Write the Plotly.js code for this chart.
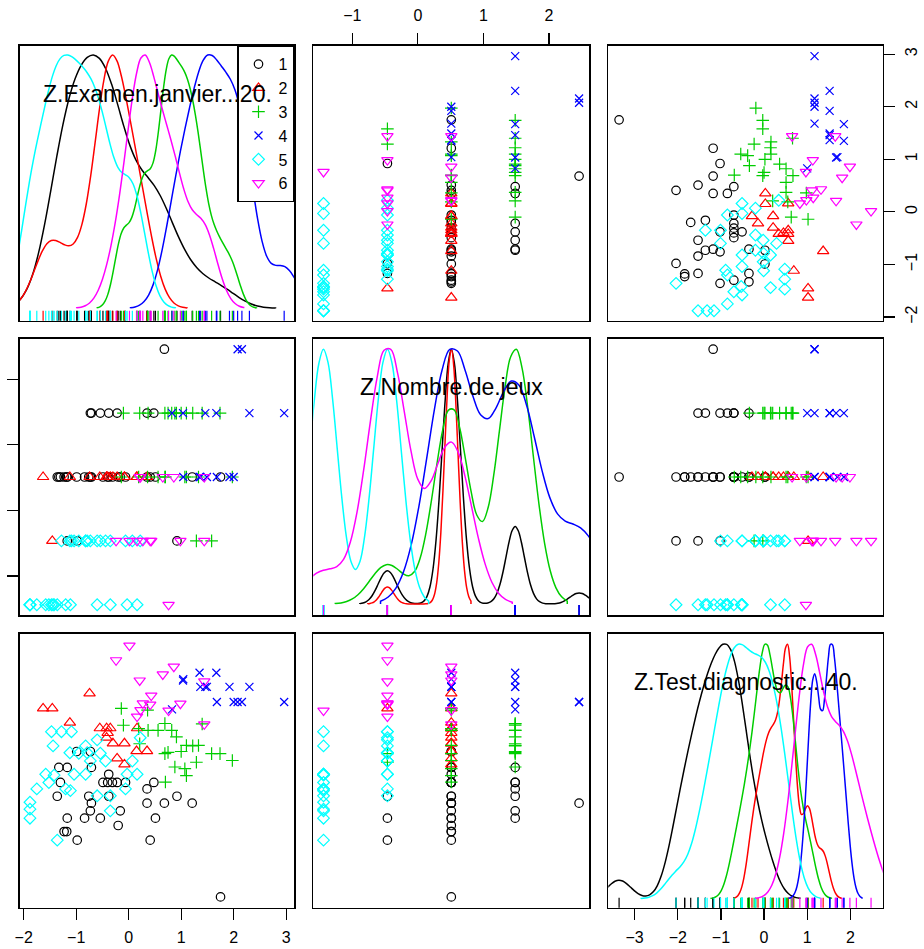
<!DOCTYPE html>
<html>
<head>
<meta charset="utf-8">
<script src="https://cdn.plot.ly/plotly-3.0.1.min.js"></script>
<style>html,body{margin:0;padding:0;background:#fff}</style>
</head>
<body>
<div id="chart" style="width:924px;height:949px"></div>
<script>
// ---------------- DATA ----------------
const clusterNames = ['1', '2', '3', '4', '5', '6'];
const varLabels = ['Z.Examen.janvier...20.', 'Z.Nombre.de.jeux', 'Z.Test.diagnostic...40.'];

// cluster 1
const examen1 = [-1.33,-1.17,-0.71,-0.38,-0.49,-0.40,-0.31,-0.22,-0.06,-1.30,0.48,0.35,-1.36,-0.76,-0.38,-0.71,-0.73,-0.16,0.35,0.68,0.92,1.21,-1.17,-0.84,-0.54,0.51,-0.20,-1.23,-1.18,-0.98,0.41,1.75,-0.99,-0.73];
const jeux1   = [0.51,0.51,1.485,0.51,0.51,0.51,0.51,1.485,0.51,0.51,1.485,1.485,0.51,0.51,1.485,0.51,1.485,0.51,0.51,2.46,-0.465,0.51,-0.465,0.51,1.485,0.51,0.51,0.51,0.51,-0.465,0.51,0.51,0.51,0.51];
const diag1   = [-0.35,-0.35,-0.35,-0.51,-0.70,-0.70,-0.70,-0.70,-0.70,-0.70,-0.70,-0.85,-1.02,-1.02,-1.02,-1.18,-1.36,-1.36,-1.18,-1.18,-1.02,-1.18,-1.53,-1.53,-1.53,-1.53,-1.70,-1.84,-1.84,-2.04,-2.04,-3.36,0.02,0.02];
// cluster 2
const examen2 = [-1.63,-1.455,-1.12,-0.745,-0.55,-0.42,-0.35,0.16,-0.30,-0.08,0.15,0.35,-0.22,-0.08,-0.42,-0.40];
const jeux2   = [0.51,-0.465,0.51,0.51,0.51,0.51,0.51,0.51,0.51,0.51,0.51,0.51,0.51,0.51,0.51,0.51];
const diag2   = [1.02,1.02,0.69,1.37,0.56,0.56,0.56,0.56,0.21,0.21,0.03,0.03,-0.14,-0.28,0.34,0.45];
// cluster 3
const examen3 = [1.975,1.74,1.58,1.29,1.33,1.10,1.07,0.88,1.10,0.91,0.82,0.69,0.75,0.70,0.56,0.69,0.37,0.36,0.21,-0.10,-0.14,0.19,1.40,1.22,1.00];
const jeux3   = [0.51,1.485,-0.465,-0.465,0.51,0.51,0.51,1.485,1.485,1.485,1.485,0.51,1.485,0.51,0.51,1.485,1.485,0.51,1.485,1.485,0.51,0.51,1.485,1.485,1.485];
const diag3   = [-0.19,-0.03,-0.03,-0.23,0.16,-0.54,-0.38,-0.34,0.16,0.36,0.51,-0.03,0.00,-0.69,0.51,0.67,0.51,0.98,0.20,0.63,1.02,0.55,0.66,0.15,0.02];
// cluster 4
const examen4 = [1.035,1.35,1.67,1.365,1.46,1.49,1.92,2.30,1.68,2.00,2.075,2.157,2.962,0.826,1.04];
const jeux4   = [1.485,0.51,1.485,0.51,1.485,0.51,0.51,1.485,0.51,0.51,2.46,2.46,1.485,1.485,0.51];
const diag4   = [1.67,1.85,1.85,1.52,1.52,1.52,1.52,1.52,1.17,1.17,1.17,1.17,1.17,1.00,1.70];
// cluster 5
const examen5 = [-1.47,-1.28,-1.09,-1.44,-1.12,-0.95,-0.79,-0.82,-0.60,-0.54,-0.73,-0.44,0.07,0.22,-1.58,-1.42,-1.52,-1.04,-0.82,-0.03,0.16,-1.75,-1.20,-1.11,-0.60,-0.35,-0.06,-1.88,-1.88,-1.88,-0.35,-1.36];
const jeux5   = [-1.44,-0.465,-0.465,-1.44,-0.465,-0.465,-0.465,-0.465,-0.465,-0.465,-0.465,-0.465,-0.465,-0.465,-1.44,-1.44,-1.44,-0.465,-0.465,-1.44,-1.44,-1.44,-1.44,-1.44,-1.44,-0.465,-0.465,-1.44,-1.44,-1.44,-1.44,-1.44];
const diag5   = [0.48,0.48,0.48,0.15,-0.01,-0.02,-0.01,0.15,0.29,-0.02,-0.20,-0.20,-0.20,0.34,-0.51,-0.53,-0.70,-0.51,-0.51,-0.51,-0.51,-0.85,-0.85,-0.89,-1.01,-1.01,-0.85,-1.16,-1.32,-1.53,-1.36,-2.04];
// cluster 6
const examen6 = [0.015,-0.24,0.86,0.65,0.21,1.44,0.43,0.27,0.41,0.985,0.225,0.76,0.16,1.44];
const jeux6   = [-0.465,-0.465,0.51,0.51,0.51,-0.465,-0.465,-0.465,-0.465,-0.465,0.51,-1.44,-0.465,0.51];
const diag6   = [2.48,2.14,1.99,1.81,1.67,1.65,1.32,1.14,1.11,1.13,0.98,0.97,0.83,0.65];

const tickExamen = [-2, -1, 0, 1, 2, 3];
const tickJeux = [-1, 0, 1, 2];
const tickDiag = [-3, -2, -1, 0, 1, 2];

// ---------------- STYLE ----------------
const colors = ['#000000', '#FF0000', '#00CD00', '#0000FF', '#00FFFF', '#FF00FF'];
const symbols = ['circle-open', 'triangle-up-open', 'cross-thin-open', 'x-thin-open', 'diamond-open', 'triangle-down-open'];
const msizes = [8.5, 10, 9, 8, 9, 10];
const bws = [[0.35, 0.254, 0.153, 0.264, 0.223, 0.25],
             [0.14, 0.10, 0.265, 0.36, 0.21, 0.31],
             [0.27, 0.14, 0.18, 0.14, 0.27, 0.28]];

const W = 924, H = 949;
const colPx = [[20, 294.3], [313.3, 589.3], [608.3, 882.7]];
const rowPx = [[46, 320.7], [339, 615], [634, 907.7]];
const ranges = [[-2.07, 3.155], [-1.596, 2.616], [-3.61, 2.75]];
const densRange = [[-0.049, 1.0355], [-0.0432, 1.0404], [-0.0354, 1.0405]];
const rugPos = [-0.0328, -0.0271, -0.0193];
const FONT = 'Arial, "Liberation Sans", sans-serif';

const vars = [
  [examen1, examen2, examen3, examen4, examen5, examen6],
  [jeux1, jeux2, jeux3, jeux4, jeux5, jeux6],
  [diag1, diag2, diag3, diag4, diag5, diag6]
];
const tickSets = [tickExamen, tickJeux, tickDiag];

const colDom = colPx.map(p => [p[0] / W, p[1] / W]);
const rowDom = rowPx.map(p => [1 - p[1] / H, 1 - p[0] / H]);

const traces = [];
const layout = {
  width: W, height: H,
  margin: {l: 0, r: 0, t: 0, b: 0, pad: 0},
  paper_bgcolor: '#fff', plot_bgcolor: '#fff',
  showlegend: true,
  violinmode: 'overlay',
  font: {family: FONT, color: '#000', size: 17},
  legend: {
    x: colPx[0][1] / W, xanchor: 'right',
    y: 1 - rowPx[0][0] / H, yanchor: 'top',
    bgcolor: '#fff', bordercolor: '#000', borderwidth: 1.2,
    font: {family: FONT, size: 16, color: '#000'},
    itemwidth: 30, tracegroupgap: 0
  },
  annotations: []
};

function baseAxis() {
  return {
    showgrid: false, zeroline: false, showline: true, mirror: true,
    linecolor: '#000', linewidth: 1.7, ticks: '', showticklabels: false,
    automargin: false, fixedrange: true,
    tickfont: {family: FONT, size: 16, color: '#000'},
    tickcolor: '#000', tickwidth: 1.2, ticklen: 11
  };
}

for (let r = 0; r < 3; r++) {
  for (let c = 0; c < 3; c++) {
    const p = r * 3 + c + 1;
    const suf = p === 1 ? '' : String(p);
    const xa = baseAxis();
    const ya = baseAxis();
    xa.domain = colDom[c]; xa.range = ranges[c]; xa.anchor = 'y' + suf;
    ya.domain = rowDom[r]; ya.anchor = 'x' + suf; ya.type = 'linear';
    ya.range = (r === c) ? densRange[c] : ranges[r];

    if (r === c) {
      for (let k = 0; k < 6; k++) {
        const vals = vars[c][k];
        const bw = bws[c][k];
        traces.push({
          type: 'violin', orientation: 'h', x: vals, y0: 0,
          xaxis: 'x' + suf, yaxis: 'y' + suf,
          side: 'positive', width: 2, bandwidth: bw,
          spanmode: 'manual', span: [Math.min(...vals) - 3 * bw, Math.max(...vals) + 3 * bw],
          points: 'all', jitter: 0, pointpos: rugPos[c],
          marker: {symbol: 'line-ns-open', size: 8.5, color: colors[k], line: {width: 1.2, color: colors[k]}},
          line: {color: colors[k], width: 1.5},
          fillcolor: 'rgba(0,0,0,0)',
          box: {visible: false}, meanline: {visible: false},
          name: clusterNames[k], showlegend: false, hoverinfo: 'skip'
        });
      }
      layout.annotations.push({
        xref: 'paper', yref: 'paper',
        x: (colPx[c][0] + colPx[c][1]) / 2 / W,
        y: 1 - (rowPx[r][0] + 47.5) / H,
        xanchor: 'center', yanchor: 'middle', showarrow: false,
        text: varLabels[c], font: {family: FONT, size: 23, color: '#000'}
      });
    } else {
      for (let k = 0; k < 6; k++) {
        traces.push({
          type: 'scatter', mode: 'markers',
          x: vars[c][k], y: vars[r][k],
          xaxis: 'x' + suf, yaxis: 'y' + suf,
          marker: {symbol: symbols[k], size: msizes[k], color: colors[k], line: {width: 1.2, color: colors[k]}},
          name: clusterNames[k], legendgroup: clusterNames[k],
          showlegend: p === 2, hoverinfo: 'skip', cliponaxis: true
        });
      }
    }

    // axes with ticks (R pairs convention)
    if (p === 7 || p === 9) {
      xa.ticks = 'outside'; xa.side = 'bottom'; xa.tickvals = tickSets[c];
      xa.showticklabels = true; xa.ticklabelstandoff = 3;
    }
    if (p === 2) {
      xa.ticks = 'outside'; xa.side = 'top'; xa.tickvals = tickSets[c];
      xa.showticklabels = true; xa.ticklabelstandoff = 6;
    }
    if (p === 3) {
      ya.ticks = 'outside'; ya.side = 'right'; ya.tickvals = tickSets[r];
      ya.showticklabels = true; ya.tickangle = -90; ya.ticklabelstandoff = 2;
    }
    if (p === 4) {
      ya.ticks = 'outside'; ya.side = 'left'; ya.tickvals = tickSets[r];
      ya.showticklabels = false;
    }
    layout['xaxis' + suf] = xa;
    layout['yaxis' + suf] = ya;
  }
}
// right-side scale of the last diagonal panel (variable 3)
const y10 = baseAxis();
y10.overlaying = 'y9'; y10.anchor = 'x9'; y10.side = 'right';
y10.range = ranges[2]; y10.tickvals = tickDiag; y10.ticks = 'outside';
y10.showticklabels = true; y10.tickangle = -90; y10.showline = false; y10.mirror = false;
y10.ticklabelstandoff = 2;
layout.yaxis10 = y10;

Plotly.newPlot('chart', traces, layout, {displayModeBar: false, staticPlot: true});
</script>
</body>
</html>
